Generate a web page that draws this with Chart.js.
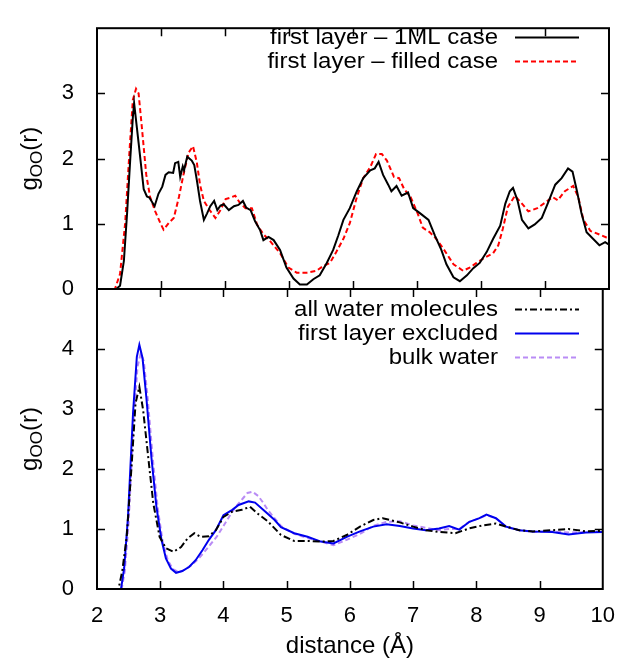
<!DOCTYPE html>
<html lang="en">
<head>
<meta charset="UTF-8">
<title>g_OO(r)</title>
<script src="https://cdn.jsdelivr.net/npm/chart.js"></script>
<style>
  html, body { margin: 0; padding: 0; background: #fff; }
  #wrap { position: relative; width: 621px; height: 661px; }
  #wrap canvas { position: absolute; left: 0; top: 0; }
</style>
</head>
<body>
<div id="wrap">
  <canvas id="topChart" width="621" height="661"></canvas>
  <canvas id="bottomChart" width="621" height="661"></canvas>
</div>
<script>
// ---- top panel: first layer ----
const r1ML = [2.0, 2.3, 2.36, 2.42, 2.47, 2.52, 2.56, 2.58, 2.65, 2.73,
  2.78, 2.82, 2.90, 2.96, 3.02, 3.07, 3.12, 3.19, 3.22, 3.27,
  3.30, 3.34, 3.36, 3.41, 3.48, 3.52, 3.56, 3.61, 3.67, 3.72,
  3.77, 3.83, 3.88, 3.93, 3.98, 4.06, 4.14, 4.21, 4.28, 4.33,
  4.40, 4.47, 4.55, 4.60, 4.68, 4.76, 4.86, 4.96, 5.07, 5.17,
  5.28, 5.38, 5.48, 5.59, 5.69, 5.77, 5.85, 5.95, 6.06, 6.16,
  6.27, 6.34, 6.40, 6.47, 6.55, 6.60, 6.68, 6.76, 6.86, 6.94,
  7.05, 7.18, 7.28, 7.38, 7.46, 7.57, 7.67, 7.78, 7.88, 7.98,
  8.09, 8.19, 8.30, 8.38, 8.45, 8.50, 8.57, 8.64, 8.74, 8.84,
  8.95, 9.05, 9.16, 9.26, 9.36, 9.43, 9.50, 9.57, 9.65, 9.75,
  9.85, 9.94, 10.0];
const g1ML = [0, 0, 0.05, 0.43, 1.16, 2.0, 2.63, 2.85, 2.24, 1.53,
  1.42, 1.40, 1.27, 1.46, 1.57, 1.75, 1.79, 1.78, 1.93, 1.95,
  1.72, 1.88, 1.82, 2.03, 1.97, 1.90, 1.67, 1.35, 1.06, 1.16,
  1.27, 1.35, 1.21, 1.28, 1.30, 1.21, 1.27, 1.29, 1.35, 1.25,
  1.21, 1.04, 0.90, 0.75, 0.80, 0.75, 0.60, 0.33, 0.16, 0.07,
  0.07, 0.15, 0.21, 0.40, 0.60, 0.82, 1.06, 1.24, 1.50, 1.70,
  1.82, 1.85, 1.95, 1.75, 1.60, 1.50, 1.58, 1.43, 1.48, 1.24,
  1.16, 1.06, 0.82, 0.60, 0.38, 0.18, 0.12, 0.21, 0.32, 0.40,
  0.57, 0.77, 0.97, 1.31, 1.50, 1.55, 1.36, 1.06, 0.93, 0.99,
  1.09, 1.33, 1.60, 1.70, 1.85, 1.80, 1.50, 1.16, 0.87, 0.77,
  0.67, 0.72, 0.68];

const rFilled = [2.0, 2.28, 2.36, 2.44, 2.51, 2.56, 2.61, 2.65, 2.70, 2.77,
  2.83, 2.91, 2.99, 3.04, 3.12, 3.20, 3.28, 3.35, 3.43, 3.50,
  3.56, 3.61, 3.67, 3.76, 3.85, 3.93, 4.01, 4.08, 4.16, 4.24,
  4.32, 4.42, 4.50, 4.60, 4.70, 4.86, 4.99, 5.12, 5.28, 5.43,
  5.53, 5.64, 5.74, 5.85, 5.95, 6.06, 6.16, 6.27, 6.36, 6.45,
  6.53, 6.64, 6.72, 6.80, 6.90, 7.01, 7.09, 7.20, 7.30, 7.41,
  7.51, 7.57, 7.72, 7.83, 7.93, 8.04, 8.19, 8.27, 8.34, 8.42,
  8.53, 8.64, 8.74, 8.88, 9.01, 9.12, 9.20, 9.31, 9.44, 9.52,
  9.60, 9.71, 9.84, 9.96, 10.0];
const gFilled = [0, 0, 0.23, 1.01, 2.15, 2.90, 3.07, 3.0, 2.49, 1.75,
  1.41, 1.19, 1.01, 0.91, 1.01, 1.09, 1.41, 1.75, 2.09, 2.19,
  1.94, 1.60, 1.35, 1.21, 1.09, 1.21, 1.38, 1.40, 1.43, 1.31,
  1.24, 1.24, 0.99, 0.84, 0.74, 0.55, 0.33, 0.25, 0.25, 0.28,
  0.35, 0.40, 0.57, 0.77, 1.01, 1.41, 1.70, 1.87, 2.07, 2.07,
  1.97, 1.72, 1.70, 1.53, 1.41, 1.16, 0.94, 0.87, 0.77, 0.62,
  0.47, 0.38, 0.28, 0.33, 0.40, 0.47, 0.55, 0.67, 0.92, 1.26,
  1.43, 1.31, 1.19, 1.24, 1.33, 1.41, 1.36, 1.50, 1.58, 1.41,
  1.06, 0.89, 0.84, 0.79, 0.78];

// ---- bottom panel ----
const rAll = [2.0, 2.34, 2.40, 2.47, 2.55, 2.61, 2.67, 2.73, 2.81, 2.89,
  2.99, 3.09, 3.21, 3.33, 3.43, 3.54, 3.64, 3.77, 3.88, 4.0,
  4.14, 4.29, 4.42, 4.55, 4.70, 4.91, 5.12, 5.33, 5.54, 5.74,
  5.95, 6.16, 6.37, 6.52, 6.79, 7.0, 7.2, 7.41, 7.67, 7.89,
  8.10, 8.31, 8.47, 8.68, 8.89, 9.2, 9.46, 9.73, 10.0];
const gAll = [0, 0, 0.3, 0.87, 2.1, 3.1, 3.37, 2.98, 2.2, 1.43,
  0.87, 0.68, 0.62, 0.70, 0.84, 0.93, 0.87, 0.88, 0.98, 1.2,
  1.29, 1.32, 1.37, 1.25, 1.13, 0.90, 0.80, 0.80, 0.79, 0.80,
  0.90, 1.04, 1.15, 1.18, 1.11, 1.04, 0.98, 0.95, 0.93, 1.01,
  1.06, 1.09, 1.04, 0.98, 0.96, 0.98, 1.0, 0.96, 0.97];

const rExcl = [2.0, 2.38, 2.43, 2.49, 2.57, 2.63, 2.67, 2.72, 2.78, 2.86,
  2.94, 3.02, 3.09, 3.17, 3.25, 3.35, 3.46, 3.56, 3.67, 3.77,
  3.88, 4.0, 4.14, 4.24, 4.40, 4.50, 4.66, 4.81, 4.91, 5.12,
  5.33, 5.54, 5.74, 5.95, 6.16, 6.37, 6.58, 6.79, 7.0, 7.2,
  7.41, 7.57, 7.73, 7.89, 8.05, 8.16, 8.31, 8.47, 8.68, 8.89,
  9.2, 9.46, 9.73, 10.0];
const gExcl = [0, 0, 0.35, 1.2, 2.93, 3.87, 4.07, 3.85, 3.2, 2.2,
  1.37, 0.82, 0.51, 0.34, 0.27, 0.30, 0.37, 0.48, 0.65, 0.82,
  0.98, 1.23, 1.32, 1.40, 1.46, 1.44, 1.29, 1.15, 1.03, 0.93,
  0.87, 0.79, 0.76, 0.87, 0.96, 1.04, 1.08, 1.05, 1.01, 0.98,
  1.01, 1.05, 0.99, 1.12, 1.18, 1.24, 1.18, 1.04, 0.98, 0.96,
  0.95, 0.91, 0.94, 0.95];

const rBulk = [2.0, 2.39, 2.44, 2.50, 2.58, 2.64, 2.69, 2.74, 2.80, 2.88,
  2.96, 3.04, 3.12, 3.20, 3.30, 3.40, 3.50, 3.60, 3.70, 3.80,
  3.90, 4.0, 4.1, 4.2, 4.3, 4.38, 4.46, 4.55, 4.62, 4.70,
  4.91, 5.12, 5.33, 5.54, 5.74, 5.95, 6.16, 6.37, 6.58, 6.79,
  7.0, 7.2, 7.41, 7.57, 7.73, 7.89, 8.05, 8.16, 8.31, 8.47,
  8.68, 8.89, 9.2, 9.46, 9.73, 10.0];
const gBulk = [0, 0, 0.3, 1.1, 2.8, 3.7, 3.92, 3.8, 3.2, 2.2,
  1.35, 0.78, 0.48, 0.33, 0.28, 0.33, 0.40, 0.50, 0.62, 0.75,
  0.88, 1.05, 1.22, 1.38, 1.50, 1.60, 1.62, 1.55, 1.45, 1.32,
  1.05, 0.92, 0.85, 0.79, 0.73, 0.82, 0.92, 1.05, 1.12, 1.13,
  1.06, 1.02, 0.98, 1.0, 1.0, 1.12, 1.18, 1.23, 1.18, 1.03,
  0.98, 0.95, 0.96, 0.94, 0.95, 0.95];

const FONT = "'Liberation Sans', Arial, sans-serif";
const TICK_SIZE = 22;   // tick numbers
const TEXT_SIZE = 24;   // axis titles
const KEY_SIZE = 22;    // key text (drawn a little wide, like the original)

function pts(xs, ys) {
  return xs.map((x, i) => ({ x: x, y: ys[i] }));
}

// gnuplot-like frame, inward ticks, key and y label
const gnuFrame = {
  id: 'gnuFrame',
  afterDraw(chart, args, opts) {
    const { ctx, chartArea: a, scales } = chart;
    const xs = scales.x, ys = scales.y;
    ctx.save();
    ctx.strokeStyle = '#000';
    ctx.lineWidth = 1.5;
    ctx.beginPath();
    for (let v = xs.min + 1; v < xs.max; v++) {
      const px = Math.round(xs.getPixelForValue(v)) + 0.5;
      ctx.moveTo(px, a.bottom); ctx.lineTo(px, a.bottom - 8);
      ctx.moveTo(px, a.top); ctx.lineTo(px, a.top + 8);
    }
    for (let v = ys.min + 1; v < ys.max; v++) {
      const py = Math.round(ys.getPixelForValue(v)) + 0.5;
      ctx.moveTo(a.left, py); ctx.lineTo(a.left + 8, py);
      ctx.moveTo(a.right, py); ctx.lineTo(a.right - 8, py);
    }
    ctx.stroke();
    ctx.lineWidth = 2;
    ctx.strokeRect(a.left, a.top, a.right - a.left, a.bottom - a.top);

    // key
    ctx.fillStyle = '#000';
    chart.data.datasets.forEach((ds, i) => {
      const y = opts.keyY[i];
      ctx.save();
      ctx.font = KEY_SIZE + 'px ' + FONT;
      ctx.textAlign = 'right';
      ctx.textBaseline = 'middle';
      ctx.translate(498, y + 1);
      ctx.scale(1.09, 1);
      ctx.fillText(ds.label, 0, 0);
      ctx.restore();
      ctx.save();
      ctx.strokeStyle = ds.borderColor;
      ctx.lineWidth = ds.borderWidth;
      ctx.setLineDash(ds.borderDash || []);
      ctx.beginPath();
      ctx.moveTo(515, y + 0.5); ctx.lineTo(579, y + 0.5);
      ctx.stroke();
      ctx.restore();
    });

    // y label g_OO(r)
    const cy = (a.top + a.bottom) / 2;
    const big = TEXT_SIZE + 'px ' + FONT, small = Math.round(TEXT_SIZE * 0.7) + 'px ' + FONT;
    ctx.font = big; const wg = ctx.measureText('g').width; const wr = ctx.measureText('(r)').width;
    ctx.font = small; const wo = ctx.measureText('OO').width;
    const total = wg + wo + wr;
    ctx.translate(37, cy);
    ctx.rotate(-Math.PI / 2);
    ctx.textAlign = 'left';
    ctx.textBaseline = 'alphabetic';
    let x = -total / 2;
    ctx.font = big; ctx.fillText('g', x, 0); x += wg;
    ctx.font = small; ctx.fillText('OO', x, 5); x += wo;
    ctx.font = big; ctx.fillText('(r)', x, 0);
    ctx.restore();
  }
};

function makeOptions(ymax, padTop, padBottom, showX, keyY) {
  return {
    responsive: false,
    animation: false,
    layout: { padding: { top: padTop, right: 12, bottom: padBottom, left: 0 } },
    plugins: { legend: { display: false }, tooltip: { enabled: false }, gnuFrame: { keyY: keyY } },
    elements: { point: { radius: 0 }, line: { tension: 0 } },
    scales: {
      x: {
        type: 'linear', min: 2, max: 10,
        display: showX,
        afterFit: s => { if (showX) s.height = 72; },
        grid: { display: false },
        border: { display: false },
        ticks: { stepSize: 1, color: '#000', padding: 6, maxRotation: 0, font: { family: FONT, size: TICK_SIZE } },
        title: { display: true, text: 'distance (Å)', color: '#000', padding: 0, font: { family: FONT, size: TEXT_SIZE } }
      },
      y: {
        min: 0, max: ymax,
        afterFit: s => { s.width = 97; },
        grid: { display: false },
        border: { display: false },
        ticks: {
          stepSize: 1, color: '#000', padding: 15,
          font: { family: FONT, size: TICK_SIZE },
          callback: v => (v === ymax ? '' : v)
        }
      }
    }
  };
}

new Chart(document.getElementById('topChart'), {
  type: 'line',
  data: {
    datasets: [
      { label: 'first layer – 1ML case', data: pts(r1ML, g1ML), borderColor: '#000000', borderWidth: 2 },
      { label: 'first layer – filled case', data: pts(rFilled, gFilled), borderColor: '#ff0000', borderWidth: 2, borderDash: [5, 3] }
    ]
  },
  options: makeOptions(4, 16, 661 - 289, false, [37, 61]),
  plugins: [gnuFrame]
});

new Chart(document.getElementById('bottomChart'), {
  type: 'line',
  data: {
    datasets: [
      { label: 'all water molecules', data: pts(rAll, gAll), borderColor: '#000000', borderWidth: 2, borderDash: [7, 3, 2, 3] },
      { label: 'first layer excluded', data: pts(rExcl, gExcl), borderColor: '#0000ee', borderWidth: 2 },
      { label: 'bulk water', data: pts(rBulk, gBulk), borderColor: '#b98cf5', borderWidth: 2, borderDash: [5, 3] }
    ]
  },
  options: makeOptions(5, 289, 0, true, [309, 333, 357]),
  plugins: [gnuFrame]
});
</script>
</body>
</html>
